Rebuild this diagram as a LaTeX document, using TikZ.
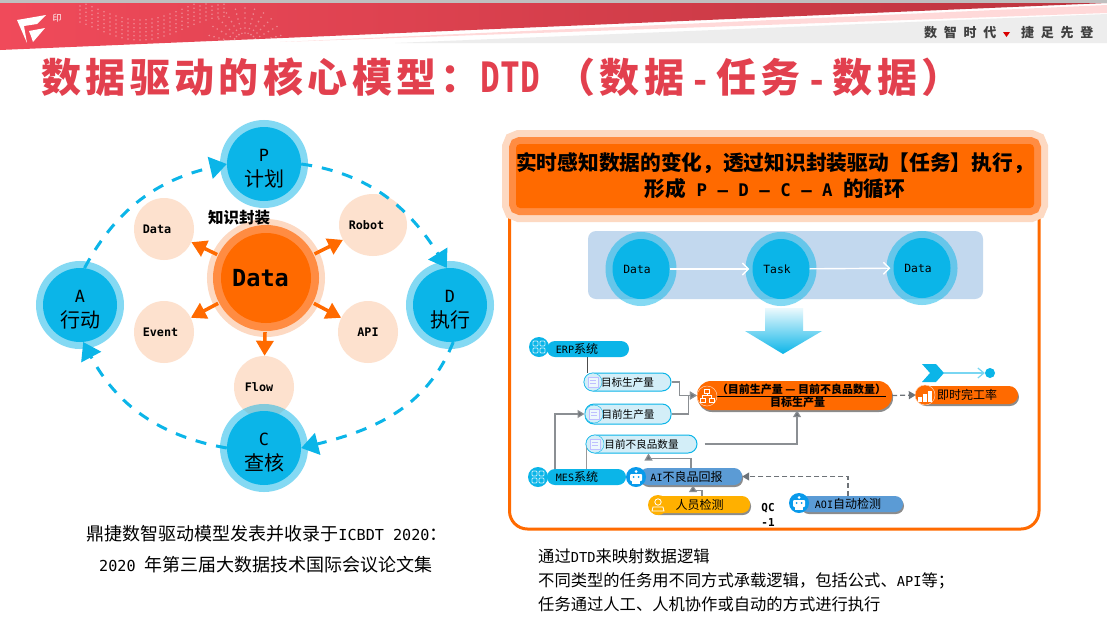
\documentclass[tikz,border=0pt]{standalone}
\usepackage{fontspec}
\setmainfont{Noto Sans CJK SC}
\newfontfamily\monofam[Scale=.84]{DejaVu Sans Mono}
\newfontfamily\titlefam[LetterSpace=11]{Noto Sans CJK SC}
\newfontfamily\slogfam[LetterSpace=52]{Noto Sans CJK SC}
\usetikzlibrary{arrows.meta,shapes.geometric,shadows}
\newcommand{\ltn}[1]{{\monofam #1}}
\newcommand{\raisetop}{\rule{0pt}{21pt}}
\definecolor{titlered}{HTML}{E2404E}
\definecolor{headleft}{HTML}{F04A5A}
\definecolor{headright}{HTML}{BC343E}
\definecolor{skyblue}{HTML}{0BB5E8}
\definecolor{steelbar}{HTML}{5B9BD5}
\definecolor{panelblue}{HTML}{C2D8EE}
\definecolor{deeporange}{HTML}{FF6A00}
\definecolor{midorange}{HTML}{FF8C42}
\definecolor{paleorange}{HTML}{FDD9C2}
\definecolor{peach}{HTML}{FDE1CE}
\definecolor{doccyan}{HTML}{D3EEF8}
\definecolor{gold}{HTML}{FFB000}
\definecolor{linegray}{HTML}{6E7378}
\tikzset{
	pdcacircle/.style={circle,minimum size=74pt,inner sep=0pt,fill=skyblue,align=center,preaction={draw=skyblue,draw opacity=.5,line width=14pt},font=\fontsize{20}{25}\selectfont},
	peachcircle/.style={ellipse,minimum width=60pt,minimum height=62pt,inner sep=0pt,fill=peach,font=\fontsize{14}{16}\selectfont\bfseries},
	corecircle/.style={circle,minimum size=90pt,inner sep=0pt,fill=deeporange,preaction={draw=paleorange,line width=28pt},preaction={draw=midorange,line width=16pt},font=\fontsize{28}{30}\selectfont\bfseries},
	bubble/.style={ellipse,minimum width=57pt,minimum height=60pt,inner sep=0pt,fill=skyblue,preaction={draw=skyblue,draw opacity=.5,line width=14pt},font=\fontsize{13.5}{15}\selectfont},
	pillshadow/.style={drop shadow={shadow xshift=1pt,shadow yshift=-2pt,opacity=.45,fill=black}},
	pillbox/.style={rectangle,rounded corners=8pt,minimum height=17pt,inner sep=0pt,font=\fontsize{12}{14}\selectfont},
	docbox/.style={pillbox,fill=doccyan,draw=skyblue,line width=1pt,rounded corners=9pt,font=\fontsize{10.6}{13}\selectfont},
	iconcircle/.style={circle,minimum size=20pt,inner sep=0pt},
	flowline/.style={draw=linegray!80,line width=1.2pt,-{Triangle[length=7pt,width=8pt,fill=linegray]}},
	dashline/.style={draw=linegray,line width=1.2pt,dash pattern=on 5pt off 3pt,-{Triangle[length=7pt,width=8pt,fill=linegray]}},
	cycleline/.style={draw=skyblue,line width=3pt,dash pattern=on 11pt off 10pt,-{Triangle[length=17pt,width=22pt,fill=skyblue]}},
	dataarrow/.style={draw=deeporange,line width=3.5pt,shorten <=9pt,-{Triangle[length=15pt,width=17pt,fill=deeporange]}},
	iconline/.style={draw=white,line width=.8pt}
}
\begin{document}
\begin{tikzpicture}[x=1pt,y=-1pt]
	\useasboundingbox (0,0) rectangle (1107,627);
	\fill[white] (0,0) rectangle (1107,627);
	\fill[black!25] (0,0) rectangle (1107,3);
	\fill[black!7] (395,43) -- (1107,14) -- (1107,43) -- cycle;
	\fill[red!15] (280,42) -- (1107,5) -- (1107,13) -- cycle;
	\begin{scope}
		\clip (0,3) -- (1107,3) -- (0,50) -- cycle;
		\shade[left color=headleft,right color=headright] (0,3) rectangle (1107,50);
		\foreach \r in {0,...,5}
			\foreach \x in {80,86,...,228}
				\fill[white,opacity=.35] (\x,{8+\r*4+12*cos((\x-140)*2)}) circle (.9);
		\foreach \r in {12,17,...,37}
			\foreach \a in {15,30,...,165}
				\fill[white,opacity=.35] ({245+\r*cos(\a)},{45-\r*sin(\a)}) circle (.9);
	\end{scope}
	\fill[white] (17,20) -- (46,15) -- (37,24) -- (24,26) -- (27,43) -- cycle;
	\fill[white] (29,31) -- (45,28) -- (33,42) -- (31,36) -- cycle;
	\node (logomark) at (57,18) [text=white,font=\fontsize{9}{10}\selectfont\itshape] {印};
	\node (slogana) at (924,33) [anchor=west,inner sep=0pt,text=black!75,font=\fontsize{13}{15}\selectfont\slogfam\bfseries] {数智时代};
	\node (sloganb) at (1021,33) [anchor=west,inner sep=0pt,text=black!75,font=\fontsize{13}{15}\selectfont\slogfam\bfseries] {捷足先登};
	\fill[red!85!black] (1003,32) -- (1010,32) -- (1006.5,37) -- cycle;
	\node (title) at (41,77) [anchor=west,inner sep=0pt,text=titlered,font=\fontsize{40}{44}\selectfont\titlefam\bfseries] {数据驱动的核心模型：\scalebox{.98}[1.25]{\ltn{DTD}}\hspace{15pt}（数据\hspace{6pt}\ltn{-}\hspace{6pt}任务\hspace{6pt}\ltn{-}\hspace{6pt}数据）};

	\node[peachcircle] (datapeach) at (164,229) {\hspace{-14pt}\ltn{Data}};
	\node[peachcircle,minimum width=68pt] (robot) at (373,225) {\hspace{-13pt}\ltn{Robot}};
	\node[peachcircle] (event) at (164,332) {\hspace{-7pt}\ltn{Event}};
	\node[peachcircle] (api) at (368,332) {\ltn{API}};
	\node[peachcircle] (flow) at (264,387) {\hspace{-10pt}\ltn{Flow}};
	\node[corecircle] (core) at (266,278) {\hspace{-11pt}\ltn{Data}};
	\foreach \target in {datapeach,robot,event,api,flow}
		\draw[dataarrow] (core) -- (\target);
	\node (wrap) at (239,218) [font=\fontsize{15.5}{17}\selectfont\bfseries] {知识封装};
	\node[pdcacircle] (plan) at (264,164) {\raisetop\ltn{P}\\计划};
	\node[pdcacircle] (act) at (80,305) {\raisetop\ltn{A}\\行动};
	\node[pdcacircle] (exec) at (450,305) {\raisetop\ltn{D}\\执行};
	\node[pdcacircle] (check) at (264,448) {\raisetop\ltn{C}\\查核};
	\draw[cycleline] (act.83) to[out=62,in=193] (plan.west);
	\draw[cycleline] (plan.east) to[out=-8,in=122] (exec.95);
	\draw[cycleline] (exec.-85) to[out=-112,in=14] (check.east);
	\draw[cycleline] (check.west) to[out=170,in=-62] (act.-85);
	\node (papera) at (267,534) [font=\fontsize{18}{20}\selectfont] {鼎捷数智驱动模型发表并收录于\ltn{ICBDT 2020}：};
	\node (paperb) at (266,565) [font=\fontsize{18}{20}\selectfont] {\ltn{2020 }年第三届大数据技术国际会议论文集};

	\draw[deeporange,line width=3pt,rounded corners=18pt] (509.5,138) rectangle (1039,529);
	\node (banner) at (775,176) [rectangle,rounded corners=4pt,minimum width=518pt,minimum height=64pt,inner sep=0pt,fill=deeporange,align=center,
		preaction={draw=paleorange,line width=28pt},preaction={draw=midorange,line width=14pt},font=\fontsize{20.7}{26}\selectfont\bfseries]
		{实时感知数据的变化，透过知识封装驱动【任务】执行，\\形成\ltn{ P – D – C – A }的循环};
	\fill[panelblue,rounded corners=8pt] (588,231) rectangle (983,299);
	\node[bubble] (datain) at (641,269) {\ltn{Data}\kern8pt};
	\node[bubble] (task) at (781,269) {\ltn{Task}\kern8pt};
	\node[bubble] (dataout) at (922,268) {\ltn{Data}\kern8pt};
	\draw[white,line width=1.4pt,-{Straight Barb[length=6pt,width=12pt]},shorten >=3pt] (datain) -- (task);
	\draw[white,line width=1.4pt,-{Straight Barb[length=6pt,width=12pt]},shorten >=3pt] (task) -- (dataout);
	\shade[top color=skyblue!8,bottom color=skyblue] (765,308) -- (803,308) -- (803,331) -- (822,331) -- (783,354) -- (745,331) -- (765,331) -- cycle;

	\node[pillbox,fill=skyblue,minimum width=82pt,minimum height=16pt] (erp) at (588,349) {\ltn{ERP}系统\kern22pt};
	\node[pillbox,fill=skyblue,minimum width=79pt,minimum height=16pt] (mes) at (586.5,477) {\ltn{MES}系统\kern19pt};
	\node[docbox,minimum width=87pt,minimum height=18pt] (targetqty) at (627.5,382) {目标生产量};
	\node[docbox,minimum width=86pt,minimum height=20pt] (actualqty) at (628,414) {目前生产量};
	\node[docbox,minimum width=111pt,minimum height=18pt] (defectqty) at (641.5,444) {目前不良品数量};
	\node[pillbox,pillshadow,fill=deeporange,rounded corners=14pt,minimum width=195pt,minimum height=29pt,align=center,font=\fontsize{11}{13}\selectfont\bfseries] (formula) at (794.5,395.5) {\hspace{14pt}\underline{（目前生产量 — 目前不良品数量）}\\\hspace{6pt}目标生产量};
	\node[pillbox,pillshadow,fill=steelbar,minimum width=102pt] (aireport) at (691,476.5) {\ltn{AI}不良品回报\kern9pt};
	\node[pillbox,pillshadow,fill=gold,minimum width=101pt] (inspect) at (699.5,504.5) {人员检测};
	\node[pillbox,pillshadow,fill=steelbar,minimum width=103pt,minimum height=16pt] (aoi) at (851.5,504) {\ltn{AOI}自动检测\kern7pt};
	\node[pillbox,pillshadow,fill=deeporange,minimum width=102pt,minimum height=18pt,rounded corners=9pt] (rate) at (967,395) {即时完工率};
	\node (qc) at (768,515) [align=center,inner sep=0pt,font=\fontsize{13}{15}\selectfont\bfseries] {\ltn{QC}\\\ltn{-1}};

	\draw[black!70,line width=.8pt] ([xshift=-40pt]targetqty.north) -- ([xshift=-40pt]targetqty.north |- erp.south);
	\draw[flowline] (targetqty.east) -- ++(8,0) |- (formula.west);
	\draw[flowline] (actualqty.east) -- ++(17,0) |- (formula.west);
	\draw[flowline] ([xshift=-31.5pt]mes.north) |- (actualqty.west);
	\draw[black!40,line width=1.2pt] (mes.north) -- (mes.north |- defectqty.west);
	\draw[flowline] ([xshift=7pt]defectqty.east) -| ([xshift=2.5pt]formula.south);
	\draw[flowline] (aireport.north) -- ++(0,-9) -| ([xshift=7pt]defectqty.south);
	\draw[flowline] ([xshift=2.5pt]inspect.north) -- ++(0,-5) -| ([xshift=2pt]aireport.south);
	\draw[dashline] ([xshift=-3.5pt]aoi.north) |- (aireport.east);
	\draw[dashline] (formula.east) -- (rate.west);

	\node[iconcircle,fill=skyblue] (erpicon) at (539,347) {};
	\node[iconcircle,fill=skyblue] (mesicon) at (538,477) {};
	\foreach \icon in {erpicon,mesicon}
		\foreach \dx/\dy in {-3.5/-3.5,3.5/-3.5,-3.5/3.5,3.5/3.5}
			\draw[iconline,draw=white!75!skyblue,rounded corners=1pt] ([shift={(\dx-2.5,\dy-2.5)}]\icon.center) rectangle ++(5,5);
	\node[iconcircle,fill=doccyan,draw=skyblue,minimum size=18pt] (targeticon) at (593,382) {};
	\node[iconcircle,fill=doccyan,draw=skyblue,minimum size=18pt] (actualicon) at (594,414) {};
	\node[iconcircle,fill=doccyan,draw=skyblue,minimum size=18pt] (defecticon) at (595,444) {};
	\foreach \icon in {targeticon,actualicon,defecticon} {
		\draw[blue!25!white,line width=.8pt,fill=white!60!doccyan] ([shift={(-5,-5)}]\icon.center) rectangle ++(10,10);
		\draw[blue!25!white,line width=.7pt] ([shift={(-3,-2)}]\icon.center) -- ++(6,0) ([shift={(-3,1)}]\icon.center) -- ++(6,0);
	}
	\node[iconcircle,fill=deeporange,draw=white!70!deeporange,line width=.5pt] (formulaicon) at (707,396) {};
	\draw[iconline] ([shift={(-2.5,-7)}]formulaicon.center) rectangle ++(5,4) ([shift={(-7,2)}]formulaicon.center) rectangle ++(5,4) ([shift={(2,2)}]formulaicon.center) rectangle ++(5,4);
	\draw[iconline] ([shift={(0,-3)}]formulaicon.center) -- ++(0,2.5) ([shift={(-4.5,2)}]formulaicon.center) -- ++(0,-2.5) -- ++(9,0) -- ++(0,2.5);
	\node[iconcircle,fill=deeporange,draw=white!70!deeporange,line width=.5pt] (rateicon) at (925,395) {};
	\foreach \dx/\h in {-5/5,0/8,5/11}
		\fill[white] ([shift={(\dx-1.8,7)}]rateicon.center) rectangle ++(3.6,-\h);
	\node[iconcircle,fill=blue!15!skyblue] (aiicon) at (636,477) {};
	\node[iconcircle,fill=blue!15!skyblue] (aoiicon) at (799,503) {};
	\foreach \icon in {aiicon,aoiicon} {
		\fill[white,rounded corners=1pt] ([shift={(-6,-3)}]\icon.center) rectangle ++(12,7);
		\fill[white] ([shift={(0,-5.5)}]\icon.center) circle (1.5);
		\fill[white] ([shift={(-4,4)}]\icon.center) rectangle ++(8,3);
		\fill[blue!15!skyblue] ([shift={(-2.5,0)}]\icon.center) circle (1) ([shift={(2.5,0)}]\icon.center) circle (1);
	}
	\node[iconcircle,fill=gold] (personicon) at (658,505) {};
	\draw[iconline] ([shift={(0,-3)}]personicon.center) circle (3.2);
	\draw[iconline] ([shift={(-6,6)}]personicon.center) -- ++(1,-4) -- ++(10,0) -- ++(1,4) -- cycle;

	\fill[skyblue] (922,364) -- (936,364) -- (944,373) -- (936,382) -- (922,382) -- (930,373) -- cycle;
	\coordinate (chevtip) at (944,373);
	\node[circle,minimum size=10pt,inner sep=0pt,fill=skyblue] (enddot) at (990,373) {};
	\draw[skyblue!55,line width=1.2pt,-{Straight Barb[length=6pt,width=10pt]}] (chevtip) -- (enddot.west);

	\node (notea) at (538,556) [anchor=west,inner sep=0pt,font=\fontsize{16.3}{18}\selectfont] {通过\ltn{DTD}来映射数据逻辑};
	\node (noteb) at (538,581) [anchor=west,inner sep=0pt,font=\fontsize{16.3}{18}\selectfont] {不同类型的任务用不同方式承载逻辑，包括公式、\ltn{API}等；};
	\node (notec) at (538,604) [anchor=west,inner sep=0pt,font=\fontsize{16.3}{18}\selectfont] {任务通过人工、人机协作或自动的方式进行执行};
\end{tikzpicture}
\end{document}
